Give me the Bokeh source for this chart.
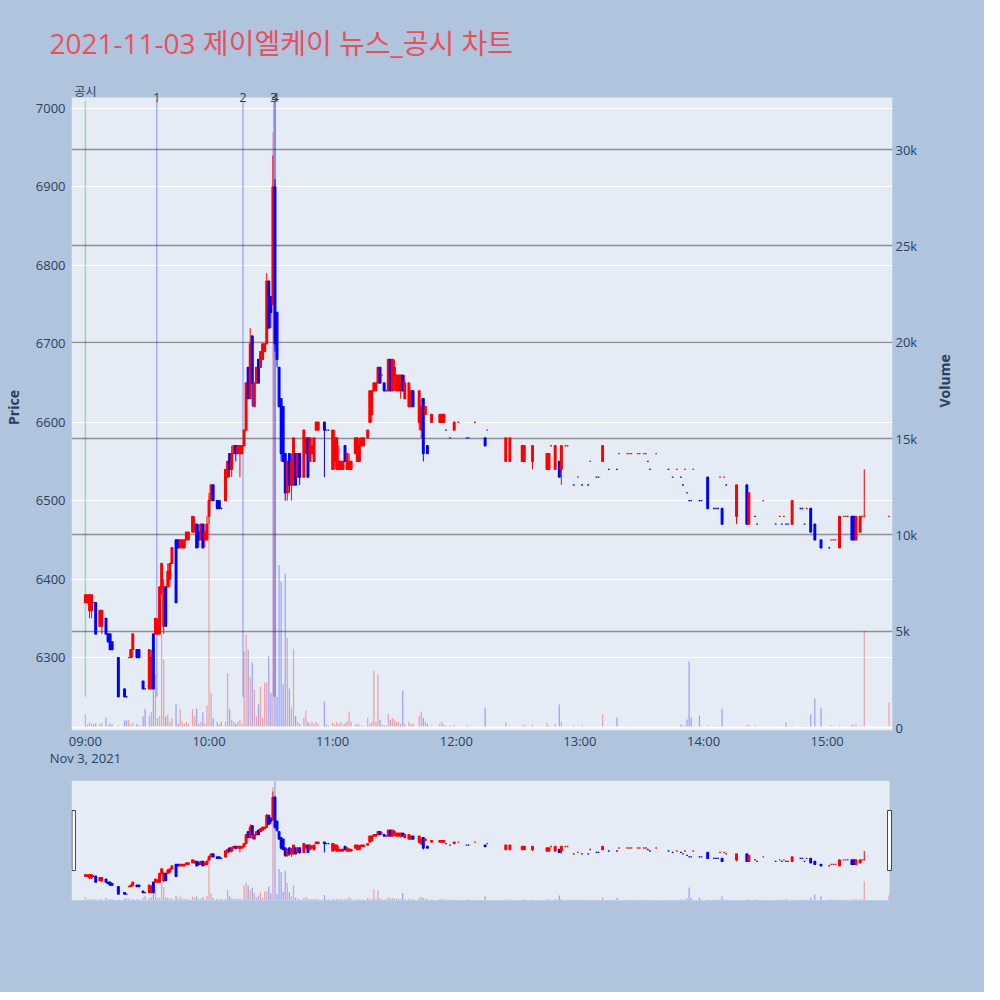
import math
import numpy as np
import pandas as pd
from bokeh.plotting import figure
from bokeh.models import (Range1d, LinearAxis, FixedTicker, Grid, Span, Label,
                          ColumnDataSource, BoxAnnotation)
from bokeh.layouts import column
from bokeh.embed import file_html
from bokeh.resources import INLINE

# ---------------- data ----------------
session_start = "2021-11-03 09:00"
minutes = [0, 1, 2, 3, 4, 5, 7, 8, 10, 11, 12, 13, 16, 19, 20, 21, 22, 23, 25, 26,
           28, 29, 31, 32, 33, 34, 35, 36, 37, 38, 39, 40, 41, 42, 44, 45, 46, 47, 48, 49,
           50, 52, 53, 54, 55, 56, 57, 58, 59, 60, 61, 62, 64, 65, 66, 68, 69, 70, 71, 72,
           73, 74, 75, 76, 77, 78, 79, 80, 81, 82, 83, 84, 85, 86, 87, 88, 89, 90, 91, 92,
           93, 94, 95, 96, 97, 98, 99, 100, 101, 102, 103, 104, 106, 107, 108, 109, 110, 111, 112, 113,
           116, 117, 118, 120, 121, 122, 123, 124, 125, 126, 127, 128, 129, 131, 132, 133, 134, 135, 137, 138,
           139, 140, 141, 142, 143, 144, 145, 146, 147, 148, 149, 150, 151, 152, 153, 154, 155, 157, 158, 159,
           162, 163, 164, 165, 166, 168, 172, 173, 174, 175, 177, 179, 181, 185, 186, 189, 194, 195, 204, 206,
           212, 213, 217, 224, 225, 226, 228, 230, 231, 233, 234, 237, 239, 241, 244, 245, 248, 249, 251, 254,
           258, 259, 263, 264, 265, 268, 269, 271, 272, 273, 274, 277, 283, 285, 287, 289, 290, 291, 292, 293,
           294, 295, 298, 299, 302, 305, 306, 307, 308, 309, 310, 311, 316, 321, 322, 325, 326, 329, 335, 337,
           338, 339, 340, 341, 343, 347, 348, 349, 350, 352, 354, 357, 361, 362, 363, 364, 366, 368, 369, 370,
           372, 373, 374, 376, 377, 378, 390]
opens = [6370, 6370, 6360, 6360, 6370, 6370, 6340, 6340, 6350, 6330, 6330, 6320, 6300, 6260, 6250, 6300, 6300, 6310, 6310, 6310,
         6270, 6260, 6260, 6260, 6330, 6330, 6330, 6330, 6390, 6340, 6390, 6390, 6400, 6420, 6450, 6450, 6440, 6440, 6440, 6450,
         6450, 6460, 6460, 6470, 6460, 6450, 6470, 6450, 6450, 6480, 6500, 6520, 6500, 6500, 6490, 6500, 6530, 6560, 6540, 6560,
         6570, 6560, 6560, 6560, 6570, 6590, 6670, 6630, 6710, 6620, 6650, 6680, 6670, 6680, 6690, 6700, 6780, 6760, 6750, 6900,
         6740, 6670, 6630, 6620, 6560, 6510, 6560, 6520, 6520, 6560, 6530, 6560, 6530, 6560, 6580, 6550, 6560, 6550, 6590, 6590,
         6600, 6590, 6590, 6540, 6550, 6540, 6540, 6540, 6540, 6570, 6540, 6540, 6540, 6560, 6550, 6550, 6570, 6570, 6580, 6600,
         6610, 6640, 6640, 6650, 6670, 6660, 6650, 6640, 6640, 6680, 6640, 6660, 6640, 6640, 6640, 6660, 6630, 6620, 6620, 6640,
         6600, 6590, 6630, 6610, 6570, 6600, 6600, 6600, 6600, 6590, 6580, 6590, 6600, 6580, 6580, 6600, 6580, 6590, 6550, 6550,
         6550, 6550, 6550, 6540, 6540, 6570, 6540, 6550, 6540, 6570, 6570, 6520, 6530, 6520, 6520, 6550, 6530, 6530, 6550, 6540,
         6540, 6560, 6560, 6560, 6560, 6560, 6560, 6560, 6560, 6550, 6540, 6560, 6540, 6530, 6540, 6530, 6520, 6540, 6510, 6500,
         6500, 6540, 6500, 6500, 6530, 6490, 6490, 6490, 6530, 6490, 6530, 6520, 6480, 6520, 6470, 6480, 6470, 6500, 6470, 6480,
         6470, 6480, 6470, 6470, 6470, 6490, 6490, 6470, 6490, 6490, 6470, 6450, 6440, 6450, 6450, 6450, 6440, 6480, 6480, 6480,
         6480, 6480, 6450, 6460, 6480, 6480, 6480]
highs = [6380, 6380, 6380, 6380, 6370, 6370, 6360, 6360, 6350, 6330, 6330, 6320, 6300, 6260, 6250, 6300, 6310, 6330, 6310, 6310,
         6270, 6260, 6310, 6310, 6330, 6350, 6350, 6390, 6420, 6400, 6390, 6420, 6420, 6440, 6450, 6450, 6450, 6450, 6450, 6460,
         6460, 6480, 6480, 6470, 6470, 6470, 6470, 6470, 6480, 6510, 6520, 6520, 6500, 6500, 6490, 6540, 6550, 6560, 6570, 6570,
         6570, 6570, 6570, 6570, 6590, 6650, 6670, 6720, 6710, 6650, 6670, 6680, 6690, 6700, 6700, 6790, 6780, 6760, 6940, 6910,
         6740, 6670, 6630, 6620, 6560, 6550, 6560, 6560, 6580, 6560, 6560, 6560, 6590, 6580, 6580, 6580, 6580, 6580, 6600, 6600,
         6600, 6590, 6590, 6590, 6590, 6580, 6570, 6550, 6550, 6570, 6560, 6560, 6550, 6580, 6580, 6580, 6580, 6580, 6590, 6640,
         6640, 6650, 6650, 6670, 6670, 6660, 6650, 6640, 6680, 6680, 6680, 6680, 6660, 6660, 6660, 6660, 6660, 6650, 6640, 6640,
         6640, 6630, 6630, 6620, 6570, 6610, 6610, 6610, 6610, 6590, 6580, 6600, 6600, 6580, 6580, 6600, 6580, 6590, 6580, 6580,
         6570, 6570, 6570, 6560, 6560, 6570, 6570, 6550, 6570, 6570, 6570, 6520, 6530, 6520, 6520, 6550, 6530, 6530, 6570, 6540,
         6540, 6560, 6560, 6560, 6560, 6560, 6560, 6560, 6560, 6550, 6540, 6560, 6540, 6530, 6540, 6530, 6520, 6540, 6510, 6500,
         6500, 6540, 6500, 6500, 6530, 6490, 6490, 6490, 6530, 6490, 6530, 6520, 6520, 6520, 6510, 6480, 6470, 6500, 6470, 6480,
         6470, 6480, 6470, 6470, 6500, 6490, 6490, 6470, 6490, 6490, 6470, 6450, 6440, 6450, 6450, 6450, 6480, 6480, 6480, 6480,
         6480, 6480, 6480, 6480, 6480, 6540, 6480]
lows = [6370, 6370, 6350, 6350, 6370, 6330, 6340, 6330, 6330, 6320, 6310, 6310, 6250, 6250, 6250, 6300, 6300, 6300, 6300, 6300,
        6260, 6260, 6260, 6260, 6260, 6330, 6330, 6330, 6380, 6330, 6340, 6390, 6390, 6420, 6370, 6440, 6440, 6440, 6440, 6450,
        6450, 6460, 6460, 6440, 6440, 6450, 6440, 6440, 6450, 6470, 6500, 6500, 6490, 6490, 6490, 6500, 6530, 6530, 6530, 6560,
        6550, 6560, 6530, 6560, 6570, 6590, 6630, 6630, 6620, 6620, 6650, 6650, 6670, 6680, 6690, 6700, 6720, 6720, 6750, 6690,
        6670, 6620, 6550, 6550, 6500, 6500, 6510, 6500, 6520, 6520, 6530, 6520, 6530, 6560, 6530, 6550, 6560, 6550, 6590, 6590,
        6530, 6590, 6590, 6540, 6540, 6540, 6540, 6540, 6540, 6550, 6540, 6540, 6540, 6560, 6550, 6550, 6570, 6570, 6580, 6600,
        6600, 6640, 6640, 6650, 6650, 6660, 6640, 6640, 6640, 6640, 6640, 6640, 6640, 6640, 6630, 6640, 6630, 6620, 6620, 6620,
        6590, 6580, 6550, 6610, 6560, 6600, 6600, 6600, 6600, 6590, 6580, 6590, 6600, 6580, 6580, 6600, 6570, 6590, 6550, 6550,
        6550, 6550, 6540, 6540, 6540, 6570, 6540, 6530, 6520, 6570, 6570, 6520, 6530, 6520, 6520, 6550, 6530, 6530, 6550, 6540,
        6540, 6560, 6560, 6560, 6560, 6560, 6560, 6560, 6560, 6550, 6540, 6560, 6540, 6530, 6540, 6530, 6520, 6540, 6510, 6500,
        6500, 6540, 6500, 6500, 6490, 6490, 6490, 6490, 6530, 6470, 6530, 6520, 6470, 6470, 6470, 6480, 6470, 6500, 6470, 6480,
        6470, 6480, 6470, 6470, 6470, 6490, 6490, 6470, 6490, 6460, 6450, 6440, 6440, 6450, 6450, 6450, 6440, 6480, 6480, 6480,
        6450, 6450, 6450, 6460, 6480, 6480, 6480]
closes = [6380, 6380, 6380, 6380, 6370, 6330, 6360, 6360, 6330, 6320, 6310, 6310, 6250, 6250, 6250, 6300, 6310, 6330, 6300, 6300,
          6260, 6260, 6310, 6300, 6260, 6350, 6340, 6390, 6420, 6390, 6340, 6410, 6420, 6440, 6370, 6440, 6450, 6450, 6450, 6460,
          6460, 6480, 6470, 6440, 6450, 6470, 6440, 6460, 6470, 6500, 6520, 6500, 6490, 6490, 6490, 6540, 6550, 6540, 6560, 6570,
          6560, 6570, 6570, 6570, 6590, 6650, 6630, 6700, 6650, 6650, 6670, 6650, 6690, 6700, 6700, 6780, 6720, 6740, 6900, 6700,
          6680, 6620, 6560, 6550, 6510, 6550, 6520, 6550, 6580, 6520, 6560, 6530, 6590, 6580, 6530, 6580, 6570, 6580, 6600, 6600,
          6590, 6590, 6590, 6590, 6580, 6580, 6550, 6550, 6550, 6550, 6560, 6550, 6550, 6580, 6580, 6570, 6580, 6580, 6590, 6640,
          6640, 6650, 6650, 6670, 6650, 6660, 6640, 6640, 6680, 6640, 6680, 6670, 6660, 6660, 6660, 6640, 6650, 6650, 6640, 6620,
          6640, 6620, 6560, 6620, 6560, 6610, 6610, 6610, 6610, 6590, 6580, 6600, 6600, 6580, 6580, 6600, 6570, 6590, 6580, 6580,
          6570, 6570, 6570, 6560, 6560, 6570, 6570, 6530, 6570, 6570, 6570, 6520, 6530, 6520, 6520, 6550, 6530, 6530, 6570, 6540,
          6540, 6560, 6560, 6560, 6560, 6560, 6560, 6560, 6560, 6550, 6540, 6560, 6540, 6530, 6540, 6530, 6520, 6540, 6510, 6500,
          6500, 6540, 6500, 6500, 6490, 6490, 6490, 6490, 6530, 6470, 6530, 6520, 6520, 6470, 6510, 6480, 6470, 6500, 6470, 6480,
          6470, 6480, 6470, 6470, 6500, 6490, 6490, 6470, 6490, 6460, 6450, 6440, 6440, 6450, 6450, 6450, 6480, 6480, 6480, 6480,
          6450, 6450, 6480, 6480, 6480, 6480, 6480]
volumes = [670, 150, 260, 200, 150, 220, 180, 250, 520, 100, 200, 150, 100, 360, 360, 400, 150, 250, 200, 100,
           570, 980, 600, 800, 1970, 2750, 500, 600, 4820, 3520, 570, 670, 300, 500, 1190, 200, 950, 300, 200, 300,
           200, 950, 600, 980, 200, 300, 780, 200, 1140, 12000, 1810, 500, 300, 150, 300, 300, 2800, 980, 400, 300,
           200, 300, 400, 200, 3940, 4820, 4040, 2640, 3370, 1970, 600, 1190, 2120, 500, 2330, 2330, 3680, 1810, 30900, 32500,
           1600, 8440, 7560, 2230, 7980, 4660, 2020, 1040, 4090, 600, 300, 200, 500, 880, 300, 200, 300, 200, 300, 200,
           1350, 150, 100, 250, 150, 300, 200, 300, 150, 200, 300, 830, 300, 150, 200, 150, 100, 100, 500, 200,
           300, 2950, 300, 2750, 400, 150, 100, 100, 700, 400, 500, 400, 300, 300, 200, 1920, 200, 300, 150, 200,
           600, 830, 500, 300, 200, 100, 200, 300, 150, 100, 100, 150, 50, 100, 80, 60, 1040, 50, 260, 100,
           100, 150, 150, 260, 100, 50, 200, 1190, 300, 50, 50, 100, 50, 100, 50, 60, 50, 50, 670, 50,
           520, 50, 50, 50, 50, 50, 50, 50, 50, 50, 50, 50, 50, 50, 50, 150, 100, 100, 410, 3420,
           520, 50, 620, 50, 100, 50, 50, 50, 50, 980, 50, 50, 50, 100, 150, 100, 50, 30, 50, 50,
           50, 50, 260, 50, 100, 50, 50, 50, 50, 670, 1500, 1040, 50, 100, 50, 50, 100, 50, 50, 50,
           150, 100, 200, 100, 50, 5030, 1300]

news_times = ["2021-11-03 09:00:00", "2021-11-03 09:34:40", "2021-11-03 10:16:30",
              "2021-11-03 10:31:25", "2021-11-03 10:32:10"]
news_labels = ["공시", "1", "2", "3", "4"]
news_kinds = ["disclosure", "news", "news", "news", "news"]

price_ticks = [6300, 6400, 6500, 6600, 6700, 6800, 6900, 7000]
vol_ticks = [0, 5000, 10000, 15000, 20000, 25000, 30000]
vol_tick_labels = ["0", "5k", "10k", "15k", "20k", "25k", "30k"]
hour_ticks = ["2021-11-03 09:00", "2021-11-03 10:00", "2021-11-03 11:00", "2021-11-03 12:00",
              "2021-11-03 13:00", "2021-11-03 14:00", "2021-11-03 15:00"]
hour_tick_labels = ["09:00\nNov 3, 2021", "10:00", "11:00", "12:00", "13:00", "14:00", "15:00"]

title_text = "2021-11-03 제이엘케이 뉴스_공시 차트"

# ---------------- styling ----------------
PAGE_BG = "#B0C4DE"
PLOT_BG = "#E5ECF6"
UP = "#FF0000"
DOWN = "#0000FF"
TXT = "#2a3f5f"
FONT = "Open Sans"
KFONT = "Open Sans, Noto Sans CJK KR"

EPOCH = pd.Timestamp("1970-01-01")
def to_ms(ts):
    return (pd.Timestamp(ts) - EPOCH) / pd.Timedelta(milliseconds=1)

base = pd.Timestamp(session_start)
t_ms = [to_ms(base + pd.Timedelta(minutes=m)) for m in minutes]

# plotly-style direction (doji -> compare with previous close)
colors = []
prev_c = None
state = True
for o, c in zip(opens, closes):
    if c == o:
        if prev_c is not None and c != prev_c:
            state = c > prev_c
    else:
        state = c > o
    prev_c = c
    colors.append(UP if state else DOWN)

src = ColumnDataSource(dict(
    t=t_ms, o=opens, h=highs, l=lows, c=closes, v=volumes,
    top=[max(a, b) for a, b in zip(opens, closes)],
    bot=[min(a, b) for a, b in zip(opens, closes)],
    color=colors))

MIN = 60000.0
x_start = to_ms(base) - 6.74 * MIN
x_end = to_ms(base) + 391.7 * MIN
FRAME_W = 828
px = (x_end - x_start) / FRAME_W

# plot-area ranges (634 px tall) and a 13 px band above it for the news labels
P_LO, P_HI = 6207, 7014
V_LO, V_HI = -155, 32700
BAND = 13
P_TOP = P_HI + BAND * (P_HI - P_LO) / 634
V_TOP = V_HI + BAND * (V_HI - V_LO) / 634


def draw_series(fig):
    fig.segment(x0="t", y0="h", x1="t", y1="l", line_color="color", line_width=1, source=src)
    fig.vbar(x="t", width=0.8 * MIN, top="top", bottom="bot", fill_color="color",
             line_color="color", line_width=1.3, source=src)
    fig.vbar(x="t", width=0.6 * MIN, top="v", bottom=0, y_range_name="vol",
             fill_color="color", fill_alpha=0.32, line_color=None, source=src)


# ---------------- main figure ----------------
p = figure(width=984, height=780, x_range=Range1d(x_start, x_end), y_range=Range1d(P_LO, P_TOP),
           x_axis_type="datetime", output_backend="svg", toolbar_location=None,
           min_border_left=64, min_border_right=92, min_border_top=83, min_border_bottom=50,
           background_fill_color=PAGE_BG, border_fill_color=PAGE_BG, outline_line_color=None)
p.extra_y_ranges = {"vol": Range1d(V_LO, V_TOP)}

p.title.text = title_text
p.title.align = "left"
p.title.offset = -22
p.title.standoff = 44
p.title.vertical_align = "middle"
p.title.text_font_size = "28px"
p.title.text_font = KFONT
p.title.text_font_style = "normal"
p.title.text_color = "#E8505B"

# plot area panel (below the label band), painted underneath the grid lines
p.add_layout(BoxAnnotation(top=P_HI, fill_color=PLOT_BG, fill_alpha=1.0, line_color=None, level="image"))

# grids
p.xgrid.visible = False
p.ygrid.ticker = FixedTicker(ticks=price_ticks)
p.ygrid.grid_line_color = "white"
p.ygrid.grid_line_width = 1.2
vgrid = Grid(dimension=1, ticker=FixedTicker(ticks=vol_ticks[1:]), y_range_name="vol",
             grid_line_color="#808080", grid_line_width=1.5, grid_line_alpha=0.85)
p.add_layout(vgrid)
p.add_layout(Span(location=0, dimension="width", y_range_name="vol", line_color="white", line_width=2))

# news lines
news_ms = [to_ms(t) for t in news_times]
news_colors = ["green" if k == "disclosure" else "blue" for k in news_kinds]
p.segment(x0=news_ms, y0=[min(lows)] * len(news_ms), x1=news_ms, y1=[7010] * len(news_ms),
          line_color=news_colors, line_alpha=0.27, line_width=1.5)

draw_series(p)

for tm, lab, kind in zip(news_ms, news_labels, news_kinds):
    p.add_layout(Label(x=tm, y=7021 if kind == "disclosure" else 7014, text=lab,
                       text_align="center", text_baseline="middle",
                       text_font=KFONT,
                       text_font_size="12px" if kind == "disclosure" else "13px",
                       text_color=TXT))

# axes
xa = p.xaxis[0]
hour_ms = [to_ms(h) for h in hour_ticks]
xa.ticker = FixedTicker(ticks=hour_ms)
xa.major_label_overrides = {m: s for m, s in zip(hour_ms, hour_tick_labels)}
ya = p.yaxis[0]
ya.ticker = FixedTicker(ticks=price_ticks)
ya.axis_label = "Price"

vax = LinearAxis(y_range_name="vol", ticker=FixedTicker(ticks=vol_ticks), axis_label="Volume")
vax.major_label_overrides = {v: s for v, s in zip(vol_ticks, vol_tick_labels)}
p.add_layout(vax, "right")

for ax in [xa, ya, vax]:
    ax.axis_line_color = None
    ax.major_tick_line_color = None
    ax.minor_tick_line_color = None
    ax.major_tick_out = 0
    ax.major_tick_in = 0
    ax.major_label_text_font = FONT
    ax.major_label_text_font_size = "13px"
    ax.major_label_text_color = TXT
    ax.axis_label_text_font = FONT
    ax.axis_label_text_font_size = "14px"
    ax.axis_label_text_font_style = "bold"
    ax.axis_label_text_color = TXT
ya.major_label_standoff = 6
ya.axis_label_standoff = 10
vax.major_label_standoff = 3
vax.axis_label_standoff = 24
vax.axis_label_orientation = math.pi / 2
xa.major_label_standoff = 1
xa.major_label_text_line_height = 0.95

# ---------------- range slider (frame aligned with the main plot) ----------------
s = figure(width=984, height=212, x_range=Range1d(x_start, x_end), y_range=Range1d(P_LO, P_HI),
           x_axis_location=None, y_axis_location=None, output_backend="svg", toolbar_location=None,
           min_border_left=64, min_border_right=92, min_border_top=0, min_border_bottom=92,
           background_fill_color=PAGE_BG, border_fill_color=PAGE_BG, outline_line_color=None)
s.title = None
s.extra_y_ranges = {"vol": Range1d(V_LO, V_HI)}
s.grid.visible = False
s.quad(left=[x_start], right=[x_start + 825 * px], bottom=[P_LO], top=[P_HI],
       fill_color=PLOT_BG, line_color=None)
draw_series(s)
h_lo = P_HI - (P_HI - P_LO) * 90 / 120
h_hi = P_HI - (P_HI - P_LO) * 30 / 120
s.quad(left=[x_start + 0.5 * px, x_start + 823 * px], right=[x_start + 4 * px, x_start + 827 * px],
       bottom=[h_lo, h_lo], top=[h_hi, h_hi], fill_color="white", line_color="#444444", line_width=1)

layout = column(p, s, spacing=0, styles={"background-color": PAGE_BG})
open("out.html", "w").write(file_html(layout, INLINE))
